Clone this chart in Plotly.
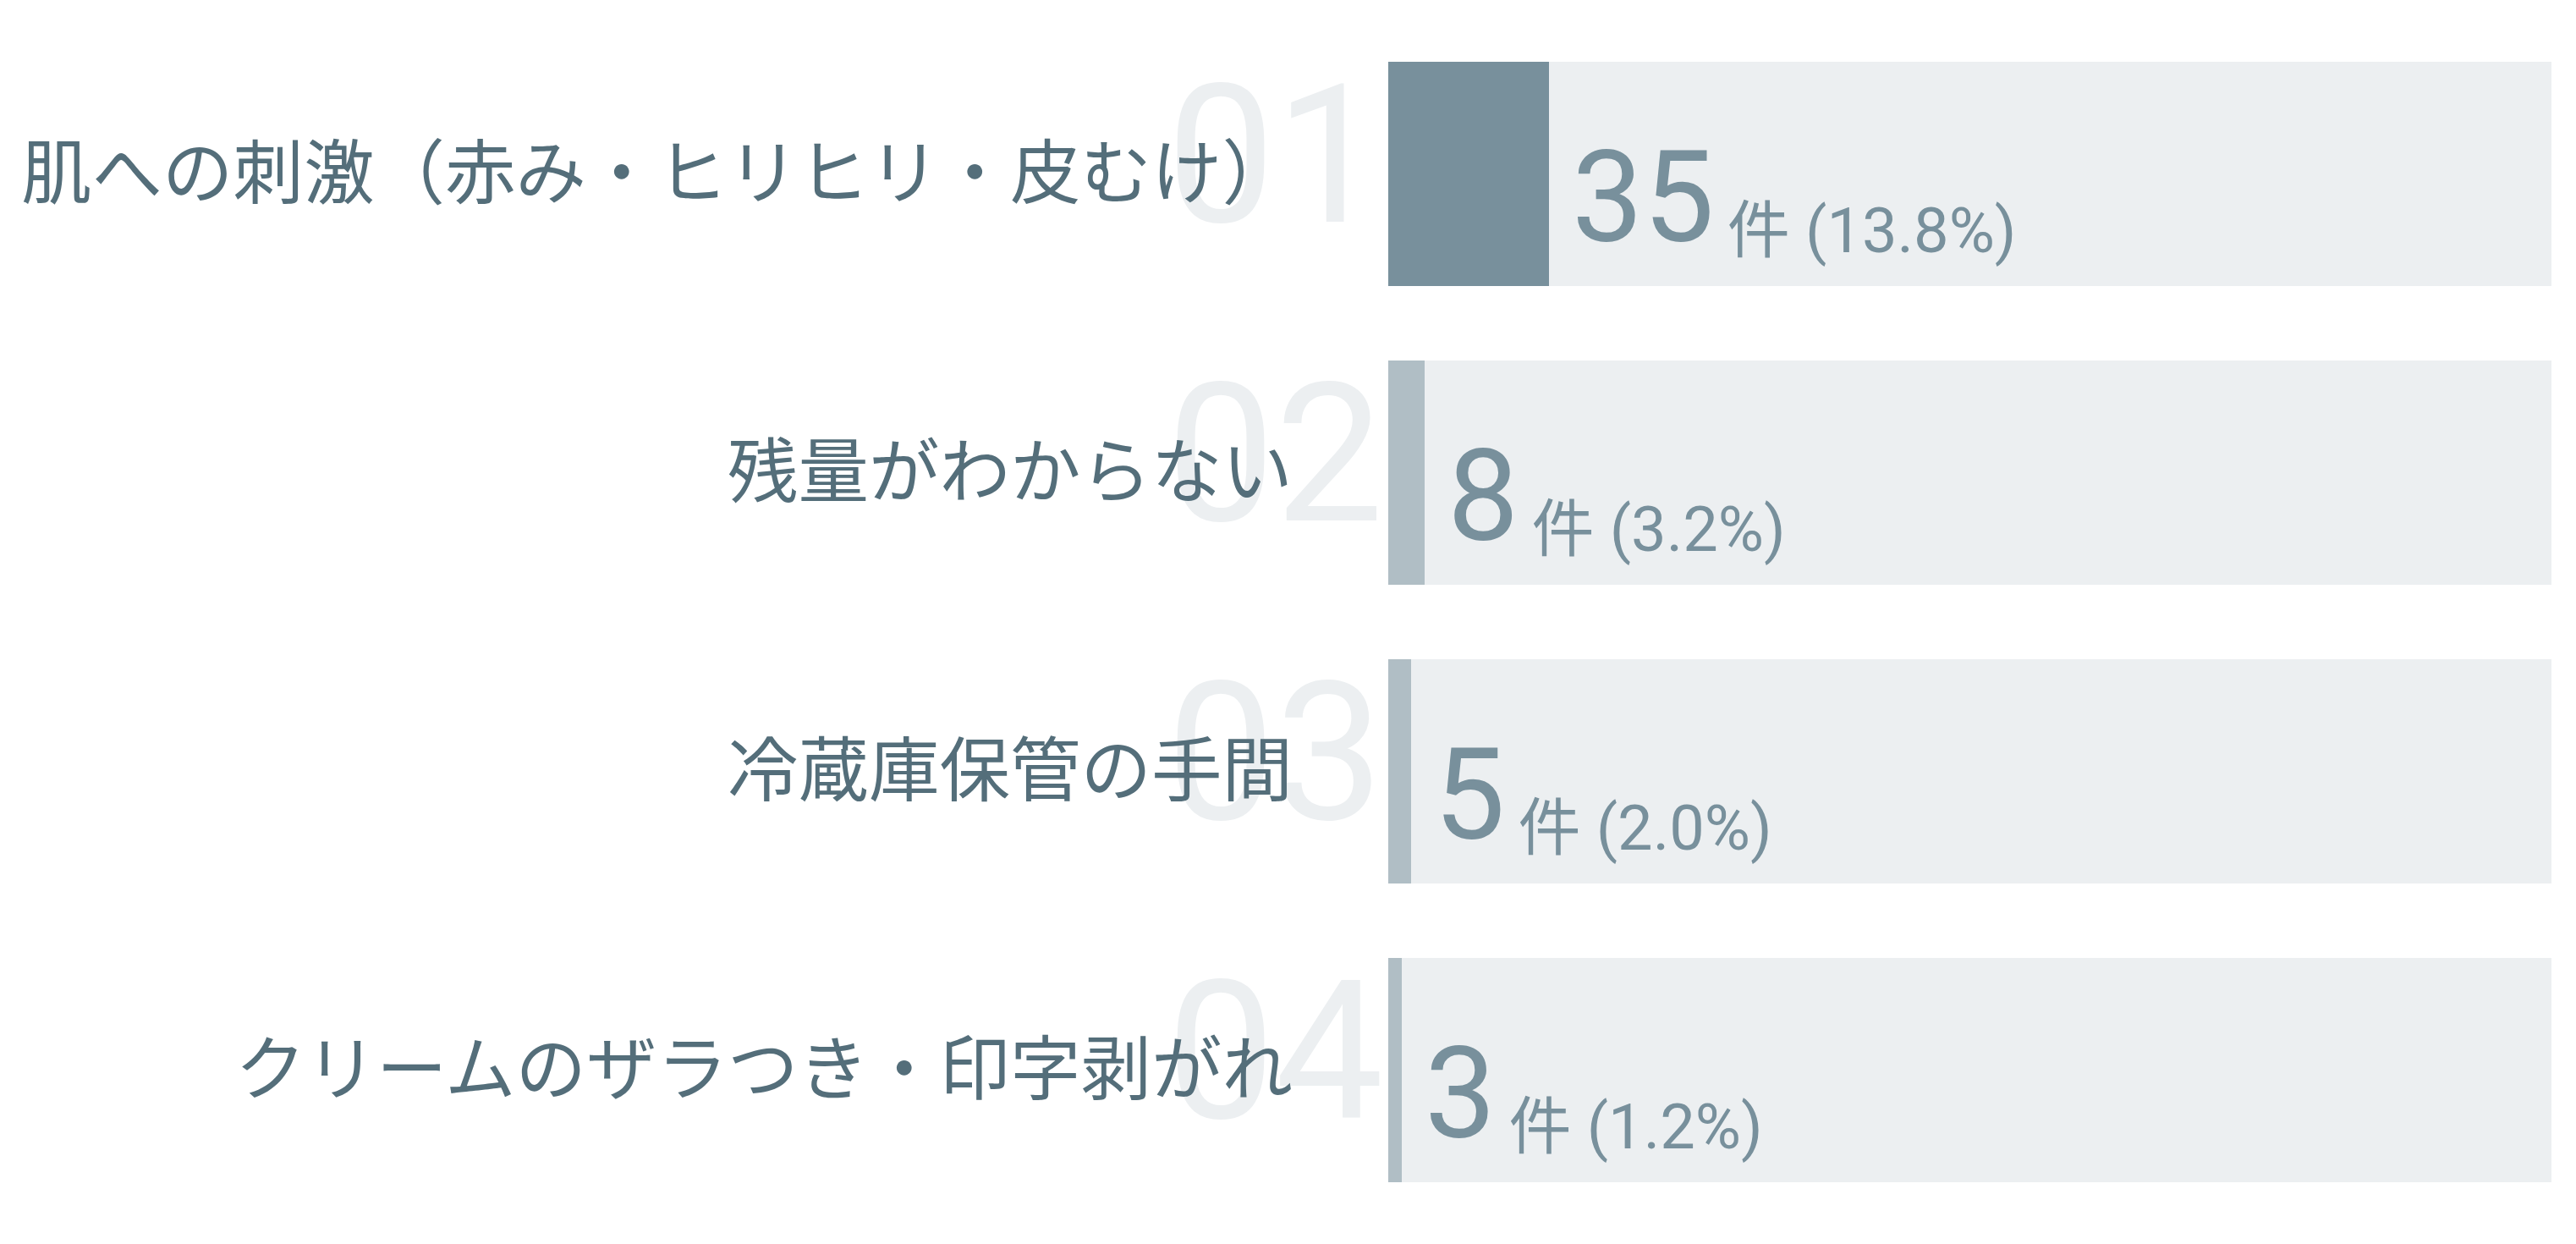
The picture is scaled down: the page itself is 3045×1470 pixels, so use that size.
import plotly.graph_objects as go

# ---- data ----
categories = [
    "肌への刺激（赤み・ヒリヒリ・皮むけ）",
    "残量がわからない",
    "冷蔵庫保管の手間",
    "クリームのザラつき・印字剥がれ",
]
counts = [35, 8, 5, 3]
percents = [13.8, 3.2, 2.0, 1.2]
ranks = ["01", "02", "03", "04"]
total = 253
unit = "件"

# ---- styles ----
TRACK = "#ECEFF1"
DARK = "#78909C"
LIGHT = "#B0BEC5"
LABEL = "#546E7A"
VALUE = "#78909C"
BAR_W = 0.748

fig = go.Figure()
fig.add_bar(
    y=categories, x=[total] * len(categories), orientation="h",
    marker=dict(color=TRACK, line=dict(width=0)), width=BAR_W,
    hoverinfo="skip", showlegend=False,
)
fig.add_bar(
    y=categories, x=counts, orientation="h",
    marker=dict(color=[DARK if i == 0 else LIGHT for i in range(len(counts))],
                line=dict(width=0)),
    width=BAR_W, showlegend=False,
)

annotations = []
for cat, rk in zip(categories, ranks):
    annotations.append(dict(
        x=0, y=cat, xref="x", yref="y", text=rk, showarrow=False,
        xanchor="right", yanchor="middle", xshift=-4, yshift=22,
        font=dict(family="Roboto", size=228, color=TRACK, weight=400),
    ))
for cat in categories:
    annotations.append(dict(
        x=0, y=cat, xref="x", yref="y", text=cat, showarrow=False,
        xanchor="right", yanchor="middle", xshift=-111, yshift=8,
        font=dict(family="Noto Sans CJK JP", size=83.5, color=LABEL),
    ))
for cat, c, p in zip(categories, counts, percents):
    txt = (f"<span style='font-size:150px'>{c}</span>"
           f"<sub><span style='font-size:74px'>\u2009{unit} ({p:.1f}%)</span></sub>")
    annotations.append(dict(
        x=c, y=cat, xref="x", yref="y", text=txt, showarrow=False,
        xanchor="left", yanchor="middle", xshift=25, yshift=-28,
        font=dict(family="Roboto, Noto Sans CJK JP", size=62, color=VALUE),
    ))

fig.update_layout(
    width=3045, height=1470,
    margin=dict(l=1641, r=29, t=29, b=29, pad=0),
    barmode="overlay",
    bargap=0,
    plot_bgcolor="white", paper_bgcolor="white",
    xaxis=dict(range=[0, total], visible=False, fixedrange=True),
    yaxis=dict(categoryorder="array", categoryarray=categories,
               autorange="reversed", visible=False, fixedrange=True),
    annotations=annotations,
    hovermode=False,
)

fig.write_html(
    "out.html",
    config={"displayModeBar": False},
    post_script="document.body.style.margin='0';document.body.style.overflow='hidden';",
)
